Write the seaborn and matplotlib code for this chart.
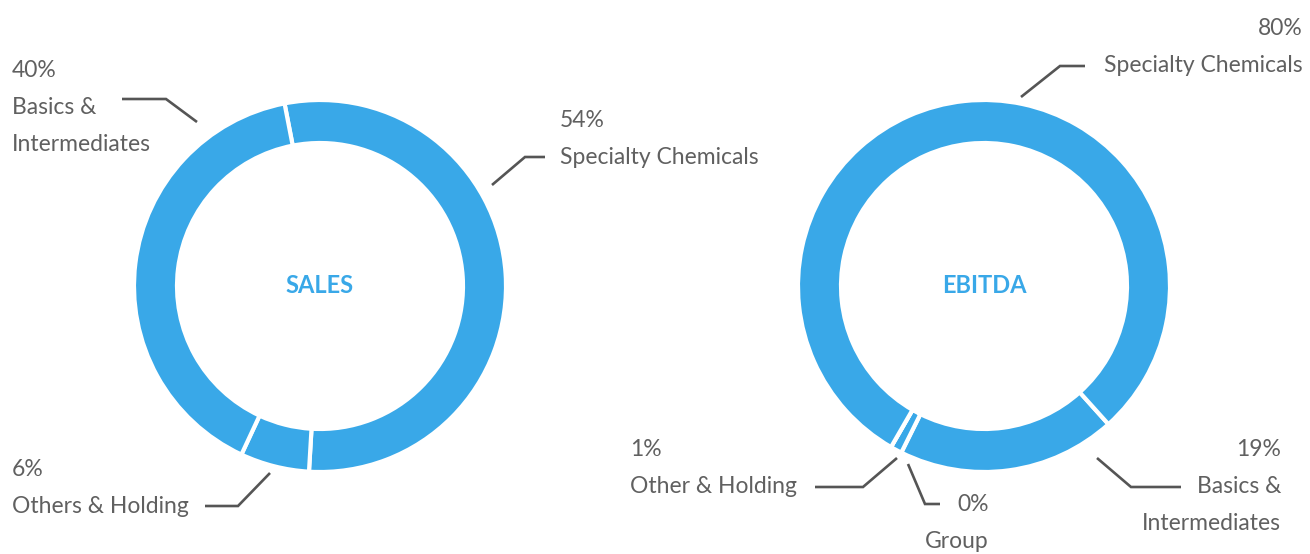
import matplotlib
matplotlib.use("Agg")
import matplotlib.pyplot as plt
import seaborn as sns

# ---------------- data ----------------
sales_labels = ["Specialty Chemicals", "Others & Holding", "Basics &\nIntermediates"]
sales_values = [54, 6, 40]
sales_pct = ["54%", "6%", "40%"]

ebitda_labels = ["Basics &\nIntermediates", "Other & Holding", "Group", "Specialty Chemicals"]
ebitda_values = [19, 1, 0, 80]
ebitda_pct = ["19%", "1%", "0%", "80%"]

titles = ["SALES", "EBITDA"]

# ---------------- style ----------------
sns.set_theme(style="white")
plt.rcParams["font.family"] = ["Lato", "DejaVu Sans"]

W, H = 1310, 554
BLUE = "#39A8E8"
GREY = "#555555"
TXT = "#606060"

fig = plt.figure(figsize=(W / 100, H / 100), dpi=100)
ax = fig.add_axes([0, 0, 1, 1])


def Y(py):
    return H - py


R_OUT = 186
RING = 43
wp = dict(width=RING, edgecolor="white", linewidth=3.0)

ax.pie(sales_values, radius=R_OUT, center=(320, Y(286)), startangle=101,
       counterclock=False, colors=[BLUE] * len(sales_values), wedgeprops=wp)
ax.pie(ebitda_values, radius=R_OUT, center=(984, Y(286)), startangle=-48,
       counterclock=False, colors=[BLUE] * len(ebitda_values), wedgeprops=wp)

for (cx, t) in zip([320, 984], titles):
    ax.text(cx, Y(293), t, ha="center", va="baseline", fontsize=17,
            fontweight="bold", color=BLUE)

FS = 16.5
LH = 37  # line height in px


def label(x, y_base, pct, name, ha):
    lines = [pct] + name.split("\n")
    for i, s in enumerate(lines):
        ax.text(x, Y(y_base + i * LH), s, ha=ha, va="baseline", fontsize=FS,
                color=TXT, fontweight="normal")


def leader(pts):
    xs = [p[0] for p in pts]
    ys = [Y(p[1]) for p in pts]
    ax.plot(xs, ys, color=GREY, lw=1.9, solid_capstyle="butt",
            solid_joinstyle="miter")


# SALES labels
label(560, 127, sales_pct[0], sales_labels[0], "left")
leader([(492, 185), (525, 157), (545, 157)])
label(12, 476, sales_pct[1], sales_labels[1], "left")
leader([(270, 473), (238, 506), (205, 506)])
label(12, 77, sales_pct[2], sales_labels[2], "left")
leader([(197, 122), (166, 99), (122, 99)])

# EBITDA labels
label(1281, 456, ebitda_pct[0], ebitda_labels[0], "right")
leader([(1097, 458), (1131, 487), (1181, 487)])
label(630, 456, ebitda_pct[1], ebitda_labels[1], "left")
leader([(897, 458), (863, 487), (815, 487)])
label(989, 511, ebitda_pct[2], ebitda_labels[2], "right")
leader([(908, 464), (925, 504), (940, 504)])
label(1303, 35, ebitda_pct[3], ebitda_labels[3], "right")
leader([(1021, 97), (1060, 66), (1085, 66)])

ax.set_xlim(0, W)
ax.set_ylim(0, H)
ax.set_aspect("equal")
ax.axis("off")

fig.savefig("out.png", dpi=100, facecolor="white")
